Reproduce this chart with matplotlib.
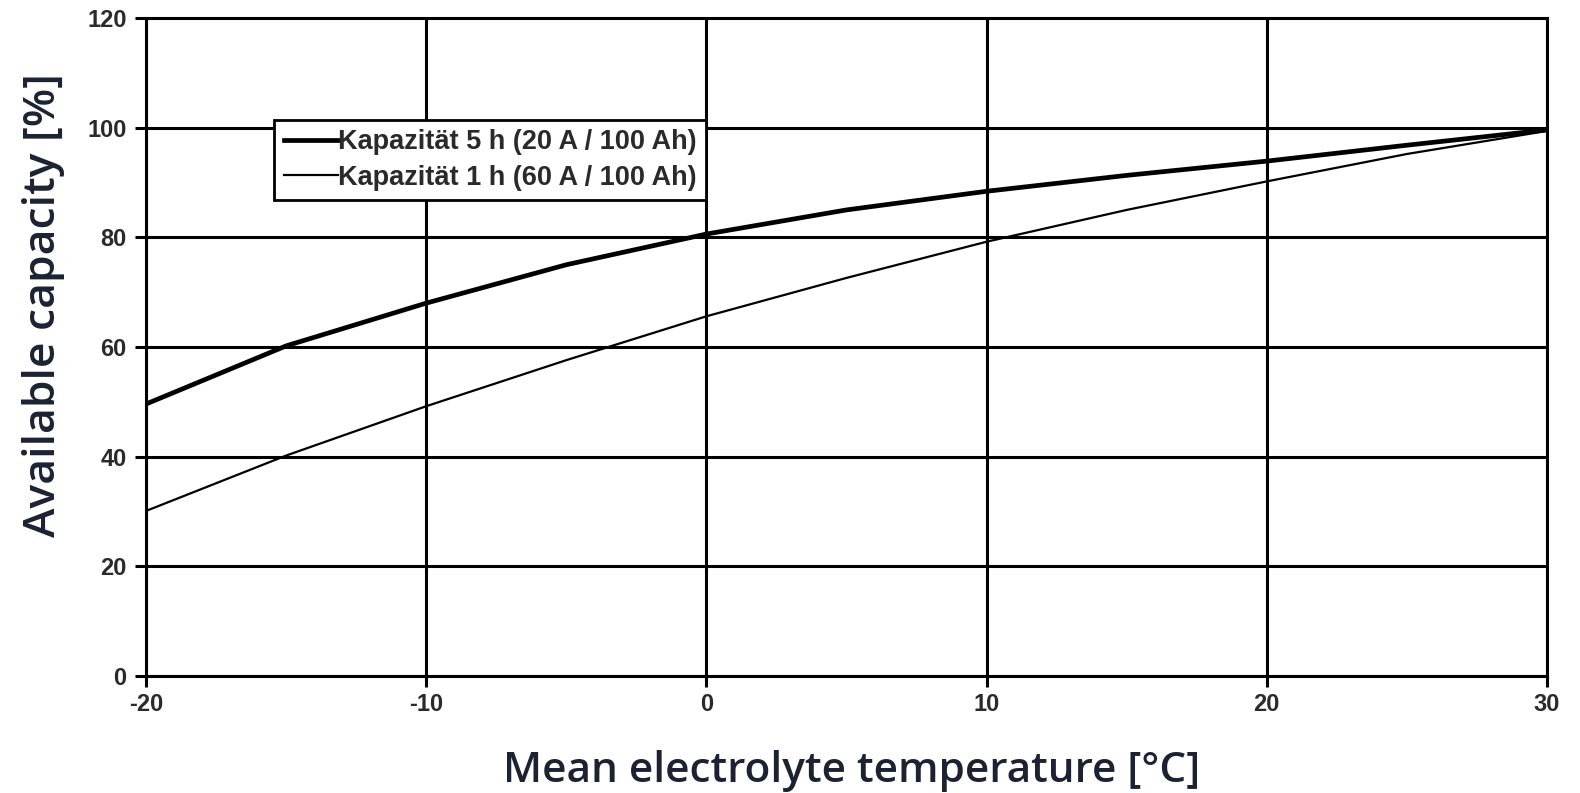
import matplotlib
matplotlib.use("Agg")
import matplotlib.pyplot as plt

plt.rcParams["axes.unicode_minus"] = False

# Data
temps = [-20, -15, -10, -5, 0, 5, 10, 15, 20, 25, 30]
cap_5h = [49.6, 60.2, 68.0, 75.0, 80.6, 85.0, 88.4, 91.3, 93.9, 96.8, 99.6]
cap_1h = [30.1, 40.2, 49.2, 57.6, 65.6, 72.6, 79.2, 85.0, 90.2, 95.2, 99.4]

series_labels = ["Kapazität 5 h (20 A / 100 Ah)", "Kapazität 1 h (60 A / 100 Ah)"]
x_ticks = [-20, -10, 0, 10, 20, 30]
y_ticks = [0, 20, 40, 60, 80, 100, 120]

label_color = "#1b2232"
tick_color = "#2a2a2a"

fig = plt.figure(figsize=(15.8, 7.93), dpi=100)
ax = fig.add_axes([146 / 1580, 1 - 676 / 793, 1401 / 1580, 658 / 793])

ax.plot(temps, cap_5h, color="black", linewidth=3.4, label=series_labels[0],
        solid_joinstyle="round")
ax.plot(temps, cap_1h, color="black", linewidth=1.6, label=series_labels[1],
        solid_joinstyle="round")

ax.set_xlim(-20, 30)
ax.set_ylim(0, 120)
ax.set_xticks(x_ticks)
ax.set_yticks(y_ticks)

# Grid lines in black, as heavy as the frame
ax.grid(True, color="black", linewidth=2.2)
ax.set_axisbelow(True)
for s in ax.spines.values():
    s.set_linewidth(2.2)
    s.set_color("black")

ax.tick_params(axis="both", direction="out", length=8, width=2.2, color="black",
               labelcolor=tick_color, labelsize=17)
ax.tick_params(axis="x", pad=4)
ax.tick_params(axis="y", pad=6)
for lab in ax.get_xticklabels() + ax.get_yticklabels():
    lab.set_fontfamily("Liberation Sans")
    lab.set_fontweight("bold")

ax.set_xlabel("Mean electrolyte temperature [°C]", fontsize=30.5, color=label_color,
              family="Open Sans", fontweight="semibold")
ax.xaxis.set_label_coords(0.504, -0.112)
ax.set_ylabel("Available capacity [%]", fontsize=32, color=label_color,
              family="Open Sans", fontweight="semibold")
ax.yaxis.set_label_coords(-0.058, 0.564)

leg = ax.legend(loc="upper left", bbox_to_anchor=(0.0914, 0.845),
                prop={"family": "Liberation Sans", "weight": "bold", "size": 19.5},
                frameon=True, fancybox=False, framealpha=1, edgecolor="black",
                handlelength=2.0, handletextpad=0.0, borderpad=0.35,
                labelspacing=0.35, borderaxespad=0)
leg.get_frame().set_linewidth(2.0)
for t in leg.get_texts():
    t.set_color(tick_color)

fig.savefig("out.png", dpi=100)
